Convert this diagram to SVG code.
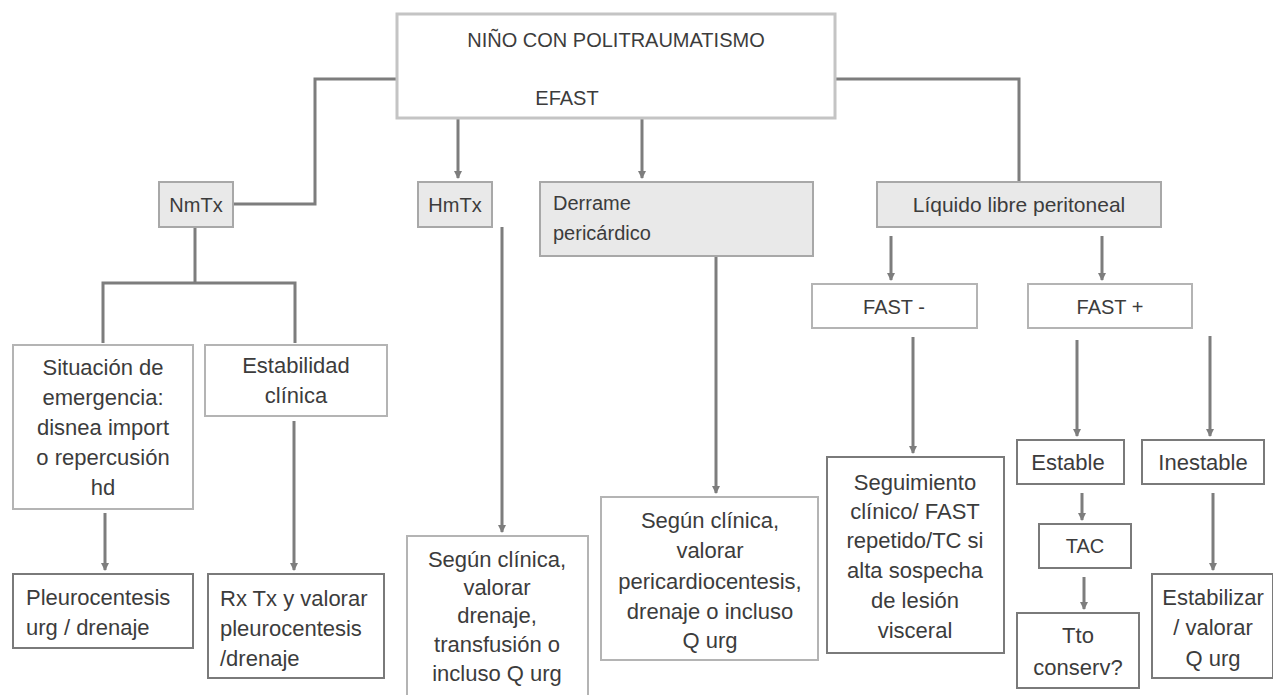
<svg xmlns="http://www.w3.org/2000/svg" width="1273" height="695" viewBox="0 0 1273 695">
<style>
text{font-family:"Liberation Sans",Arial,sans-serif;font-size:22px;fill:#3c3c3c;text-anchor:middle}
.l{text-anchor:start}
.s{font-size:20px}
.m{font-size:20px}
.b{fill:#fff;stroke:#b4b4b4;stroke-width:2}
.g{fill:#e9e9e9;stroke:#a8a8a8;stroke-width:2}
.d{fill:#fff;stroke:#7a7a7a;stroke-width:2}
.t{fill:#fff;stroke:#c4c4c4;stroke-width:3}
.c{fill:none;stroke:#7d7d7d;stroke-width:3}
</style>
<defs>
<marker id="ah" markerUnits="userSpaceOnUse" markerWidth="10" markerHeight="8" refX="7" refY="4" orient="auto">
<path d="M0,0 L8,4 L0,8 z" fill="#7d7d7d"/>
</marker>
</defs>
<rect width="1273" height="695" fill="#fff"/>
<g id="connectors">
<polyline class="c" points="397,79 315,79 315,204 233,204"/>
<polyline class="c" points="835,79 1019,79 1019,182"/>
<line class="c" x1="458" y1="118" x2="458" y2="178" marker-end="url(#ah)"/>
<line class="c" x1="642" y1="118" x2="642" y2="178" marker-end="url(#ah)"/>
<polyline class="c" points="195,227 195,283"/>
<polyline class="c" points="103,343 103,283 295,283 295,343"/>
<line class="c" x1="502" y1="227" x2="502" y2="532" marker-end="url(#ah)"/>
<line class="c" x1="716" y1="256" x2="716" y2="493" marker-end="url(#ah)"/>
<line class="c" x1="891" y1="236" x2="891" y2="280" marker-end="url(#ah)"/>
<line class="c" x1="1102" y1="236" x2="1102" y2="280" marker-end="url(#ah)"/>
<line class="c" x1="105" y1="513" x2="105" y2="570" marker-end="url(#ah)"/>
<line class="c" x1="294" y1="421" x2="294" y2="570" marker-end="url(#ah)"/>
<line class="c" x1="913" y1="337" x2="913" y2="453" marker-end="url(#ah)"/>
<line class="c" x1="1077" y1="340" x2="1077" y2="436" marker-end="url(#ah)"/>
<line class="c" x1="1210" y1="336" x2="1210" y2="436" marker-end="url(#ah)"/>
<line class="c" x1="1082" y1="493" x2="1082" y2="520" marker-end="url(#ah)"/>
<line class="c" x1="1084" y1="577" x2="1084" y2="609" marker-end="url(#ah)"/>
<line class="c" x1="1213" y1="493" x2="1213" y2="570" marker-end="url(#ah)"/>
</g>
<g id="root"><rect class="t" x="397" y="14" width="438" height="104"/>
<text class="m" x="616" y="47">NIÑO CON POLITRAUMATISMO</text><text class="m" x="567" y="105">EFAST</text></g>
<g id="nmtx"><rect class="g" x="159" y="182" width="74" height="45"/><text class="s" x="196" y="212">NmTx</text></g>
<g id="hmtx"><rect class="g" x="418" y="182" width="74" height="45"/><text class="s" x="455" y="212">HmTx</text></g>
<g id="derrame"><rect class="g" x="540" y="182" width="273" height="74"/>
<text class="l m" x="553" y="210">Derrame</text><text class="l m" x="553" y="240">pericárdico</text></g>
<g id="liquido"><rect class="g" x="877" y="182" width="284" height="45"/><text x="1019" y="212" style="font-size:21px">Líquido libre peritoneal</text></g>
<g id="fastneg"><rect class="b" x="812" y="284" width="165" height="44"/><text class="s" x="894" y="314">FAST -</text></g>
<g id="fastpos"><rect class="b" x="1028" y="284" width="164" height="44"/><text class="s" x="1110" y="314">FAST +</text></g>
<g id="situacion"><rect class="b" x="13" y="345" width="180" height="164"/>
<text x="103" y="375">Situación de</text><text x="103" y="405">emergencia:</text><text x="103" y="435">disnea import</text><text x="103" y="465">o repercusión</text><text x="103" y="495">hd</text></g>
<g id="estabilidad"><rect class="b" x="205" y="345" width="182" height="71"/>
<text x="296" y="373">Estabilidad</text><text x="296" y="403">clínica</text></g>
<g id="pleuro"><rect class="d" x="13" y="574" width="180" height="74"/>
<text class="l" x="26" y="605">Pleurocentesis</text><text class="l" x="26" y="635">urg / drenaje</text></g>
<g id="rxtx"><rect class="d" x="208" y="574" width="176" height="104"/>
<text class="l" x="220" y="606">Rx Tx y valorar</text><text class="l" x="220" y="636">pleurocentesis</text><text class="l" x="220" y="666">/drenaje</text></g>
<g id="hmtxres"><rect class="b" x="407" y="536" width="181" height="170"/>
<text x="497" y="567">Según clínica,</text><text x="497" y="595">valorar</text><text x="497" y="623">drenaje,</text><text x="497" y="652">transfusión o</text><text x="497" y="681">incluso Q urg</text></g>
<g id="pericres"><rect class="b" x="601" y="497" width="217" height="163"/>
<text x="710" y="528">Según clínica,</text><text x="710" y="558">valorar</text><text x="710" y="589">pericardiocentesis,</text><text x="710" y="619">drenaje o incluso</text><text x="710" y="648">Q urg</text></g>
<g id="seguimiento"><rect class="d" x="827" y="457" width="177" height="196"/>
<text x="915" y="490">Seguimiento</text><text x="915" y="519">clínico/ FAST</text><text x="915" y="548">repetido/TC si</text><text x="915" y="578">alta sospecha</text><text x="915" y="608">de lesión</text><text x="915" y="638">visceral</text></g>
<g id="estable"><rect class="d" x="1017" y="440" width="107" height="44"/><text x="1068" y="470">Estable</text></g>
<g id="inestable"><rect class="d" x="1142" y="440" width="122" height="44"/><text x="1203" y="470">Inestable</text></g>
<g id="tac"><rect class="d" x="1039" y="524" width="92" height="44"/><text class="m" x="1085" y="553">TAC</text></g>
<g id="tto"><rect class="d" x="1017" y="613" width="122" height="75"/>
<text x="1078" y="643">Tto</text><text x="1078" y="675">conserv?</text></g>
<g id="estabilizar"><rect class="d" x="1152" y="574" width="121" height="104"/>
<text x="1213" y="605">Estabilizar</text><text x="1213" y="635">/ valorar</text><text x="1213" y="666">Q urg</text></g>
</svg>
